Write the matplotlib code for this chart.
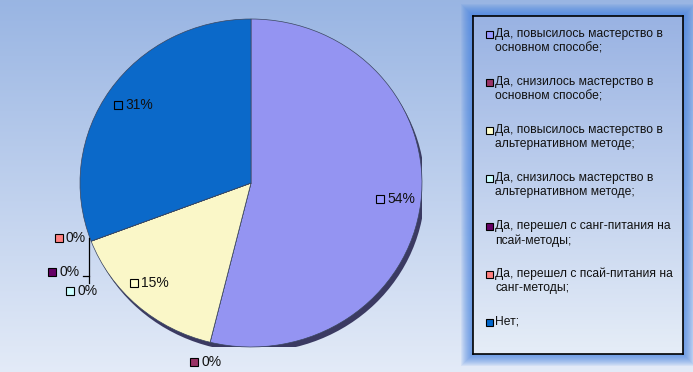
import numpy as np
import matplotlib.pyplot as plt
from matplotlib.patches import Ellipse, Rectangle

plt.rcParams['font.family'] = ['Liberation Sans', 'DejaVu Sans']

# ответы (число человек)
categories = [
    "Да, повысилось мастерство в\nосновном способе;",
    "Да, снизилось мастерство в\nосновном способе;",
    "Да, повысилось мастерство в\nальтернативном методе;",
    "Да, снизилось мастерство в\nальтернативном методе;",
    "Да, перешел с санг-питания на\nпсай-методы;",
    "Да, перешел с псай-питания на\nсанг-методы;",
    "Нет;",
]
counts = [7, 0, 2, 0, 0, 0, 4]
legend_colors = ['#9999FF', '#993366', '#FFFFCC', '#CCFFFF', '#660066', '#FF8080', '#0066CC']
slice_colors = ['#9494F2', '#993366', '#FAF7C8', '#CCFFFF', '#660066', '#FF8080', '#0B69C9']

W, H = 693, 372
fig = plt.figure(figsize=(W / 100, H / 100), dpi=100)

# фон с градиентом
bg = fig.add_axes([0, 0, 1, 1])
grad = np.linspace(0, 1, 256).reshape(-1, 1)
top = np.array([0.60, 0.71, 0.89])
bot = np.array([0.89, 0.92, 0.97])
img = top + (bot - top) * grad[..., None]
bg.imshow(img, aspect='auto', extent=[0, W, H, 0], zorder=0)

# свечение вокруг легенды
lx0, ly0, lx1, ly1 = 473, 16, 683, 354
for k in range(12, 0, -1):
    bg.add_patch(Rectangle((lx0 - k, ly0 - k), lx1 - lx0 + 2 * k, ly1 - ly0 + 2 * k,
                           facecolor='#3F7FE0', edgecolor='none', alpha=0.09, zorder=1))
bg.set_xlim(0, W)
bg.set_ylim(H, 0)
bg.axis('off')

# легенда в отдельных осях
lg = fig.add_axes([lx0 / W, 1 - ly1 / H, (lx1 - lx0) / W, (ly1 - ly0) / H])
ltop = np.array([0.60, 0.70, 0.89])
lbot = np.array([0.90, 0.93, 0.97])
limg = ltop + (lbot - ltop) * grad[..., None]
lg.imshow(limg, aspect='auto', extent=[lx0, lx1, ly1, ly0], zorder=0)
lg.set_xlim(lx0, lx1)
lg.set_ylim(ly1, ly0)
lg.set_xticks([])
lg.set_yticks([])
for s in lg.spines.values():
    s.set_color('black')
    s.set_linewidth(1.2)

for i, (lab, col) in enumerate(zip(categories, legend_colors)):
    yc = 34 + 48 * i
    lg.add_patch(Rectangle((485.5, yc - 3.5), 7, 7, facecolor=col,
                           edgecolor='black', linewidth=0.8, zorder=4))
    for j, line in enumerate(lab.split('\n')):
        lg.text(495, yc + 14.5 * j, line, fontsize=8.7,
                va='center', ha='left', color='#111111', zorder=5)

# круговая диаграмма
cx, cy, rx, ry = 251, 183, 171, 164
ax = fig.add_axes([(cx - rx) / W, (H - cy - ry) / H, 2 * rx / W, 2 * ry / H])

ax.add_patch(Ellipse((3 / rx, -5 / ry), 2, 2, facecolor='#3B3A62', edgecolor='none', zorder=0))
ax.pie(counts, colors=slice_colors, startangle=90, counterclock=False, radius=1,
       wedgeprops=dict(edgecolor='#3A4660', linewidth=0.5), normalize=True)
ax.set_aspect('auto')
ax.set_xlim(-1, 1)
ax.set_ylim(-1, 1)
ax.axis('off')

def px(x, y):
    return (x - cx) / rx, (cy - y) / ry

# подписи долей (позиции в пикселях картинки)
label_pos = [(380, 199), (194, 362), (134, 283), (70, 291), (52, 272), (59, 238), (118, 105)]
total = sum(counts)
for v, col, (x, y) in zip(counts, legend_colors, label_pos):
    mx, my = px(x, y)
    ax.plot(mx, my, marker='s', markersize=5.5, markerfacecolor=col,
            markeredgecolor='black', markeredgewidth=0.8, clip_on=False)
    tx, ty = px(x + 7, y)
    ax.text(tx, ty, f"{round(v / total * 100)}%", fontsize=10, va='center', ha='left',
            color='#111111', clip_on=False)

# выноски
ax.plot(*zip(px(89, 238), px(89, 283)), color='black', linewidth=0.9, clip_on=False)
ax.plot(*zip(px(83, 276), px(89, 276)), color='black', linewidth=0.9, clip_on=False)

fig.savefig('out.png', dpi=100)
